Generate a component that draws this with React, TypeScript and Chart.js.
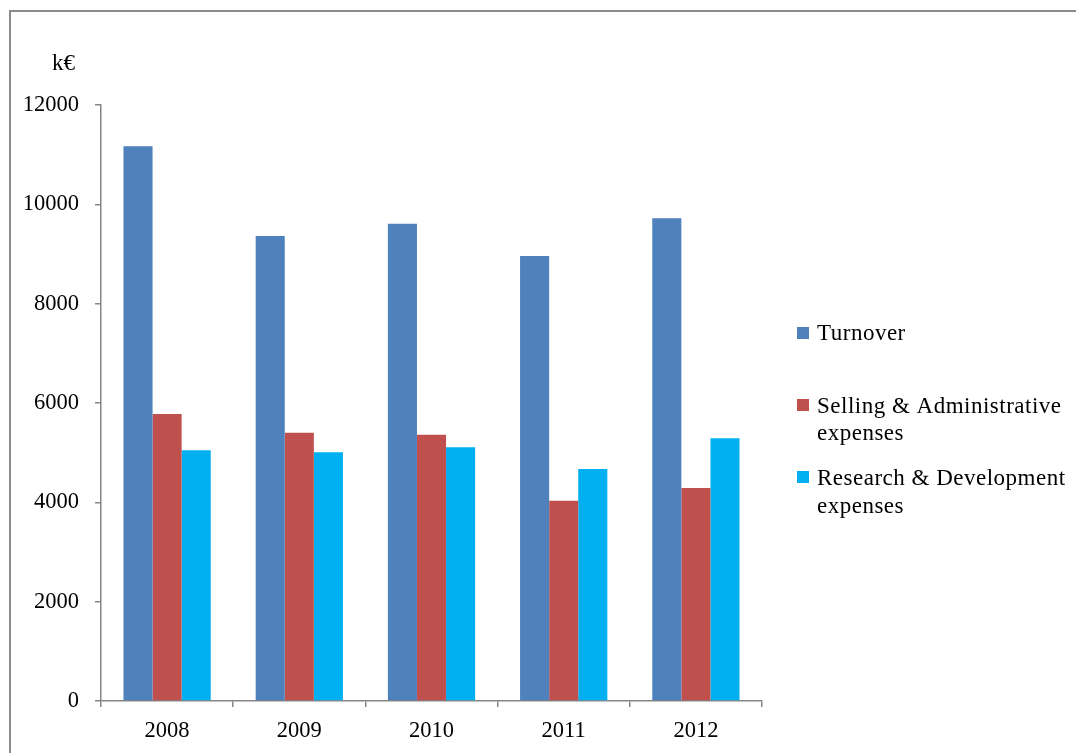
import React, { useEffect, useRef } from "react";
import { Chart, registerables } from "chart.js";

Chart.register(...registerables);

const years = ["2008", "2009", "2010", "2011", "2012"];
const turnover = [11170, 9360, 9610, 8960, 9720];
const sellingAdmin = [5780, 5400, 5360, 4030, 4290];
const researchDev = [5050, 5010, 5110, 4670, 5290];
const seriesLabels = ["Turnover", "Selling & Administrative expenses", "Research & Development expenses"];
const legendLines = [["Turnover"], ["Selling & Administrative", "expenses"], ["Research & Development", "expenses"]];
const seriesColors = ["#4F81BD", "#C0504D", "#00B0F0"];
const unitLabel = "k€";

const FONT = "'Liberation Serif', 'Times New Roman', serif";
const AXIS = "#868686";

const decorPlugin = {
  id: "decor",
  afterDraw(chart: any) {
    const ctx = chart.ctx as CanvasRenderingContext2D;
    ctx.save();
    ctx.fillStyle = "#000";
    ctx.font = `23px ${FONT}`;
    ctx.textAlign = "left";
    ctx.textBaseline = "alphabetic";
    ctx.fillText(unitLabel, 52, 70);
    // legend
    chart.data.datasets.forEach((ds: any, i: number) => {
      const top = 327 + i * 72;
      ctx.fillStyle = ds.backgroundColor;
      ctx.fillRect(797, top, 12, 12);
      ctx.fillStyle = "#000";
      (ctx as any).letterSpacing = "0.5px";
      legendLines[i].forEach((line, j) => {
        ctx.fillText(line, 817, 340 + i * 72.5 + j * 27.5);
      });
      (ctx as any).letterSpacing = "0px";
    });
    ctx.restore();
  },
};

export default function App() {
  const ref = useRef<HTMLCanvasElement>(null);
  useEffect(() => {
    document.body.style.overflow = "hidden";
    const chart = new Chart(ref.current!, {
      type: "bar",
      data: {
        labels: years,
        datasets: [
          { label: seriesLabels[0], data: turnover, backgroundColor: seriesColors[0] },
          { label: seriesLabels[1], data: sellingAdmin, backgroundColor: seriesColors[1] },
          { label: seriesLabels[2], data: researchDev, backgroundColor: seriesColors[2] },
        ],
      },
      options: {
        animation: false,
        responsive: false,
        maintainAspectRatio: false,
        datasets: { bar: { categoryPercentage: 0.66, barPercentage: 1.0 } },
        layout: { padding: { top: 105, right: 314, left: 0, bottom: 0 } },
        plugins: { legend: { display: false }, tooltip: { enabled: false } },
        scales: {
          x: {
            afterFit: (s: any) => { s.height = 52; },
            border: { display: true, color: AXIS, width: 1.5 },
            grid: { display: true, drawOnChartArea: false, drawTicks: true, tickLength: 6, color: AXIS, lineWidth: 1.5 },
            ticks: { color: "#000", font: { family: FONT, size: 22.5 }, padding: 11 },
          },
          y: {
            min: 0,
            max: 12000,
            afterFit: (s: any) => { s.width = 101; },
            border: { display: true, color: AXIS, width: 1.5 },
            grid: { display: true, drawOnChartArea: false, drawTicks: true, tickLength: 6, color: AXIS, lineWidth: 1.5 },
            ticks: {
              stepSize: 2000,
              color: "#000",
              font: { family: FONT, size: 22.5 },
              padding: 16,
              callback: (v: any) => String(v),
            },
          },
        },
      },
      plugins: [decorPlugin],
    });
    return () => chart.destroy();
  }, []);
  return (
    <>
      <div
        style={{
          position: "fixed",
          left: 9,
          top: 10,
          width: 2000,
          height: 2000,
          border: "2px solid #8c8c8c",
          boxSizing: "border-box",
        }}
      />
      <canvas
        ref={ref}
        width={1076}
        height={753}
        style={{ position: "fixed", left: 0, top: 0, width: 1076, height: 753 }}
      />
    </>
  );
}
